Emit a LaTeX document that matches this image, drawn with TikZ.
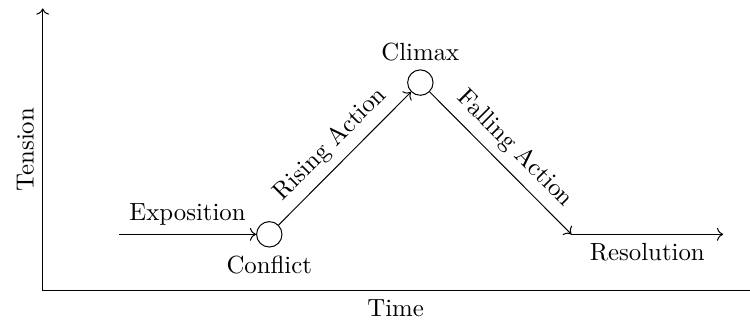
\documentclass[tikz,border=0pt]{standalone}
\usepackage{amsmath}
\usepackage{tikz}
\usetikzlibrary{arrows.meta,positioning}
\tikzset{
    event/.style={draw, circle, minimum size=0.36cm, inner sep=0pt}
}

\begin{document}
\begin{tikzpicture}
            \useasboundingbox (-0.605,-0.443) rectangle (10.02,4.12);
            % axes
            \coordinate (origin) at (0,0);
            \coordinate (ytop) at (0,4);
            \coordinate (xend) at (10.3,0);
            \coordinate (tmid) at (5,0);
            \coordinate (tenmid) at (0,2);
            \draw[->] (origin) -- (ytop);
            \draw[->] (origin) -- (xend);
            \node[below] (time) at (tmid) {Time};
            \node[above, rotate=90] (tension) at (tenmid) {Tension};

            % plot points
            \coordinate (start) at (1.08,0.8);
            \node[event] (conflict) at (3.21,0.8) {};
            \node[event] (climax) at (5.35,2.95) {};
            \coordinate (fallend) at (7.49,0.8);
            \coordinate (resend) at (9.64,0.8);

            \node[below=0pt of conflict] (conflictlbl) {Conflict};
            \node[above=0pt of climax] (climaxlbl) {Climax};

            \draw[->] (start) -- node[above] {Exposition} (conflict);
            \draw[->] (conflict) -- node[above, sloped] {Rising Action} (climax);
            \draw[->] (climax) -- node[above, sloped] {Falling Action} (fallend);
            \draw[->] (fallend) -- node[below] {Resolution} (resend);

\end{tikzpicture}
\end{document}
